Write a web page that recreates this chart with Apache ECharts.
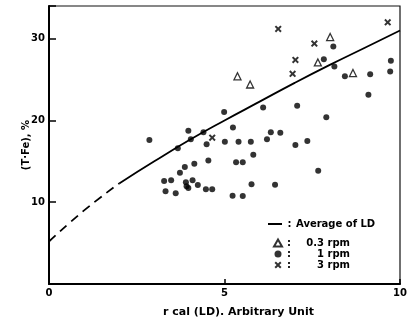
<!DOCTYPE html>
<html>
<head>
<meta charset="utf-8">
<script src="https://cdn.jsdelivr.net/npm/echarts@6/dist/echarts.min.js"></script>
<style>
  html, body { margin: 0; padding: 0; background: #fff; }
  #main { width: 410px; height: 323px; }
</style>
</head>
<body>
<div id="main"></div>
<script>
// average of LD, dashed part (extrapolated) and solid part
var avgDashed = [[0, 5.2], [1, 9.0], [2, 12.3]];
var avgSolid = [[2, 12.3], [3, 15.0], [4, 17.6], [5, 20.0], [6, 22.3], [7, 24.6], [8, 26.8], [9, 28.9], [10, 31.0]];

// 0.3 rpm (triangles)
var rpm03 = [[5.37, 25.4], [5.73, 24.4], [7.66, 27.1], [8.01, 30.2], [8.66, 25.8]];

// 1 rpm (dots)
var rpm1 = [
    [2.86, 17.6], [3.97, 18.75], [4.04, 17.7], [4.40, 18.55], [3.67, 16.6], [4.49, 17.1],
    [4.14, 14.7], [3.87, 14.3], [3.73, 13.6], [4.54, 15.1], [3.28, 12.6], [3.48, 12.7],
    [3.90, 12.45], [4.09, 12.7], [3.92, 11.95], [3.97, 11.75], [4.24, 12.1], [4.47, 11.6],
    [4.65, 11.6], [3.32, 11.35], [3.61, 11.1], [4.99, 21.05], [6.10, 21.6], [5.01, 17.4],
    [5.40, 17.4], [5.75, 17.4], [6.32, 18.55], [6.59, 18.5], [6.21, 17.7], [7.02, 17.0],
    [7.36, 17.5], [5.24, 19.15], [5.82, 15.8], [5.33, 14.9], [5.52, 14.9], [5.77, 12.2],
    [6.44, 12.15], [5.23, 10.8], [5.52, 10.75], [7.07, 21.8], [7.90, 20.4], [8.10, 29.05],
    [7.83, 27.5], [8.13, 26.6], [8.43, 25.4], [9.15, 25.65], [9.74, 27.3], [9.72, 26.0],
    [9.10, 23.15], [7.67, 13.85]
];

// 3 rpm (crosses)
var rpm3 = [[4.65, 17.9], [6.53, 31.2], [6.94, 25.7], [7.02, 27.4], [7.56, 29.4], [9.65, 32.0]];

var xTicks = [0, 5, 10];
var yTicks = [10, 20, 30];

var crossPath = 'path://M0,2L2,0L5,3L8,0L10,2L7,5L10,8L8,10L5,7L2,10L0,8L3,5Z';
var font = 'DejaVu Sans';

var myChart = echarts.init(document.getElementById('main'));

var option = {
    animation: false,
    backgroundColor: '#fff',
    grid: {
        left: 49, right: 10, top: 6, bottom: 36,
        show: true,
        borderColor: '#111',
        borderWidth: 1.2
    },
    legend: [{
        data: [{ name: 'Average of LD', icon: 'rect' }],
        orient: 'vertical',
        left: 263, top: 214,
        itemWidth: 14, itemHeight: 2,
        formatter: function (name) {
            return '{c|:}{t|' + name + '}';
        },
        textStyle: {
            rich: {
                c: { width: 5, align: 'center', fontSize: 10, fontWeight: 'bold', fontFamily: font, color: '#000' },
                t: { padding: [0, 0, 0, 4], fontSize: 10, fontWeight: 'bold', fontFamily: font, color: '#000' }
            }
        }
    }, {
        data: ['0.3 rpm', '1 rpm', '3 rpm'],
        orient: 'vertical',
        left: 268, top: 233,
        itemGap: 1,
        itemWidth: 8, itemHeight: 7,
        formatter: function (name) {
            return '{c|:}{t|' + name + '}';
        },
        textStyle: {
            rich: {
                c: { width: 4, align: 'center', fontSize: 10, fontWeight: 'bold', fontFamily: font, color: '#000', lineHeight: 12 },
                t: { width: 59, align: 'right', fontSize: 10, fontWeight: 'bold', fontFamily: font, color: '#000', lineHeight: 12 }
            }
        }
    }],
    xAxis: {
        type: 'value',
        min: 0, max: 10, interval: 5,
        name: 'r cal (LD). Arbitrary Unit',
        nameLocation: 'middle',
        nameGap: 23,
        nameMoveOverlap: false,
        nameTextStyle: { fontSize: 11, fontWeight: 'bold', fontFamily: font, color: '#000', padding: [0, 0, 0, 28] },
        axisLine: { lineStyle: { color: '#000', width: 2 } },
        axisTick: { inside: true, length: 5, lineStyle: { color: '#000', width: 1.5 } },
        axisLabel: {
            margin: 4, fontSize: 10, fontWeight: 'bold', fontFamily: font, color: '#000',
            formatter: function (v) { return xTicks.indexOf(v) >= 0 ? String(v) : ''; }
        },
        splitLine: { show: false }
    },
    yAxis: {
        type: 'value',
        min: 0, max: 34, interval: 10,
        name: '(T·Fe), %',
        nameLocation: 'middle',
        nameGap: 18,
        nameMoveOverlap: false,
        nameRotate: 90,
        nameTextStyle: { fontSize: 10, fontWeight: 'bold', fontFamily: font, color: '#000' },
        axisLine: { show: true, lineStyle: { color: '#000', width: 2 } },
        axisTick: { inside: true, length: 7, lineStyle: { color: '#000', width: 1.5 } },
        axisLabel: {
            margin: 4, fontSize: 10, fontWeight: 'bold', fontFamily: font, color: '#000',
            formatter: function (v) { return yTicks.indexOf(v) >= 0 ? String(v) : ''; }
        },
        splitLine: { show: false }
    },
    series: [{
        name: 'Average of LD',
        type: 'line',
        data: avgSolid,
        smooth: true,
        symbol: 'none',
        lineStyle: { color: '#000', width: 1.8 },
        itemStyle: { color: '#000' },
        z: 3
    }, {
        name: 'dashed',
        type: 'line',
        data: avgDashed,
        smooth: true,
        symbol: 'none',
        lineStyle: { color: '#000', width: 1.8, type: [9, 6] },
        z: 3
    }, {
        name: '0.3 rpm',
        type: 'scatter',
        data: rpm03,
        symbol: 'triangle',
        symbolSize: 7,
        itemStyle: { color: '#fff', borderColor: '#000', borderWidth: 1.3 },
        z: 4
    }, {
        name: '1 rpm',
        type: 'scatter',
        data: rpm1,
        symbol: 'circle',
        symbolSize: 6,
        itemStyle: { color: '#000' },
        z: 4
    }, {
        name: '3 rpm',
        type: 'scatter',
        data: rpm3,
        symbol: crossPath,
        symbolSize: 7,
        itemStyle: { color: '#000' },
        z: 4
    }]
};

myChart.setOption(option);
</script>
</body>
</html>
